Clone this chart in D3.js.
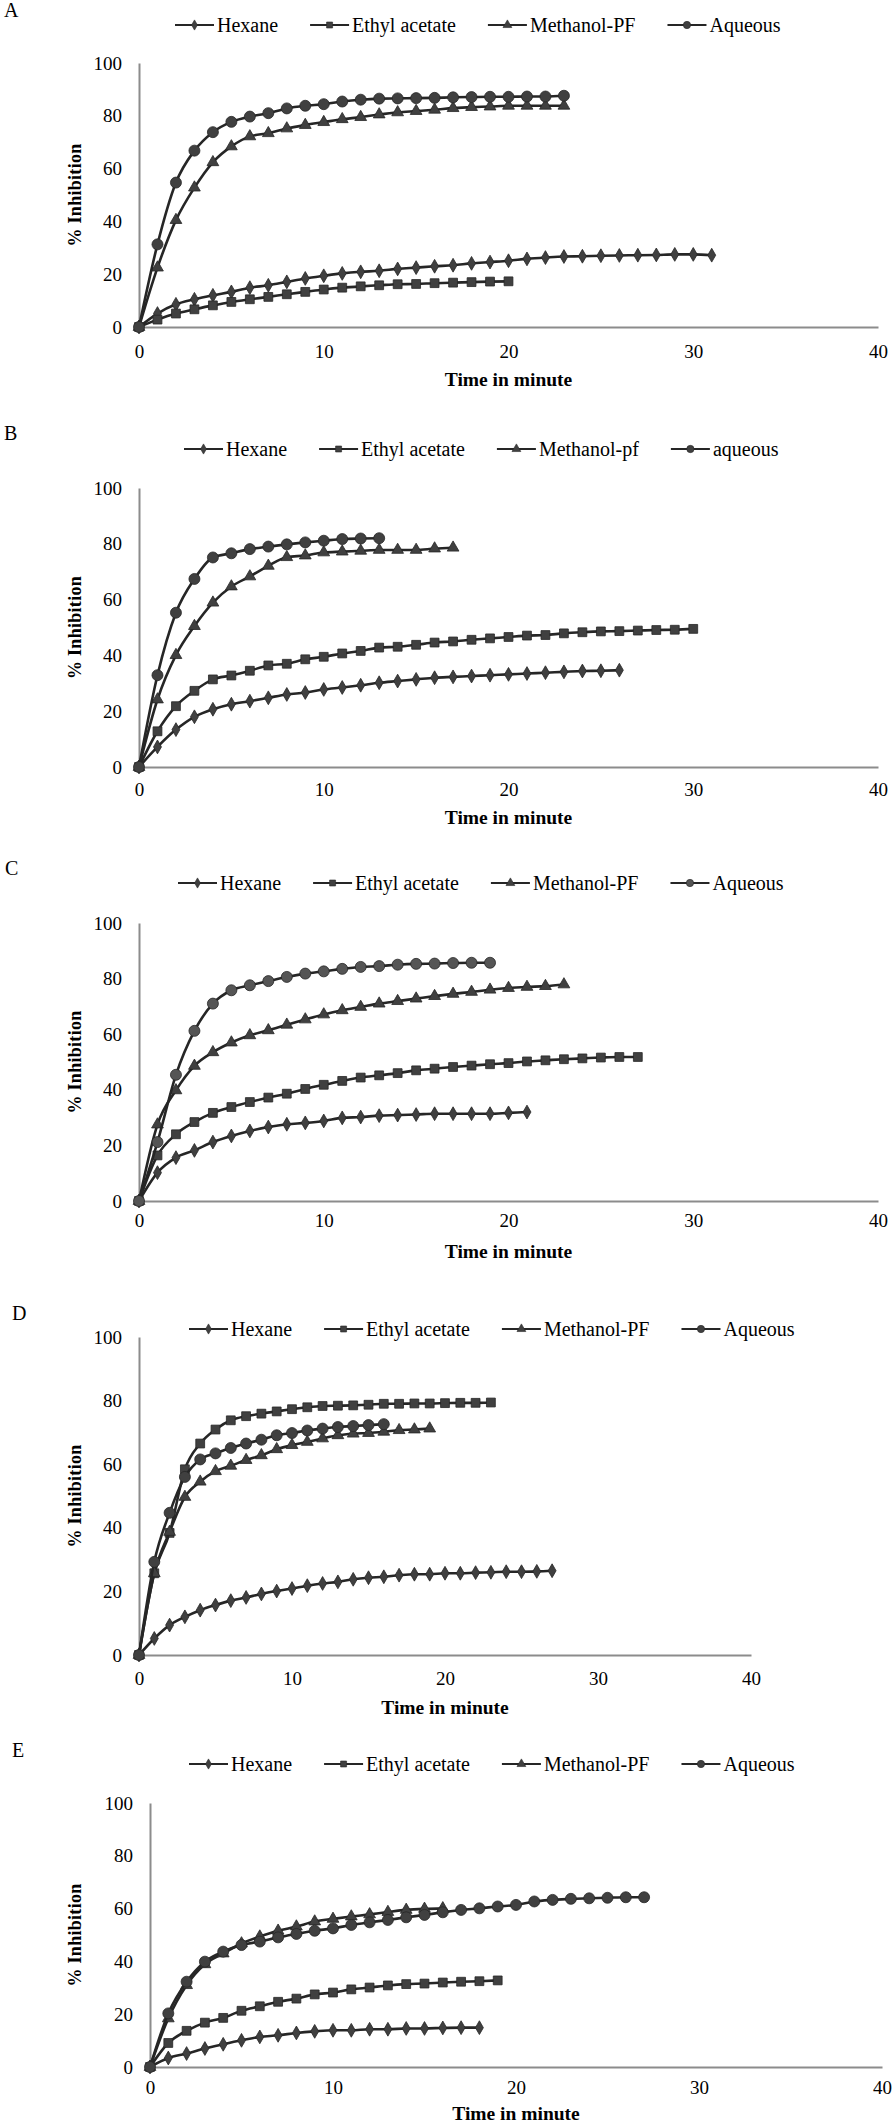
<!DOCTYPE html>
<html>
<head>
<meta charset="utf-8">
<script src="https://cdn.jsdelivr.net/npm/d3@7"></script>
<style>
  html, body { margin: 0; padding: 0; background: #fff; }
  svg { display: block; }
  text { font-family: "Liberation Serif", "Times New Roman", serif; fill: #000; }
</style>
</head>
<body>
<div id="chart"></div>
<script>
// ---------- DATA (values read per minute, index = time in minutes) ----------
const panelLetters = ["A", "B", "C", "D", "E"];
const xTicks = [0, 10, 20, 30, 40];
const yTicks = [0, 20, 40, 60, 80, 100];
const xTitle = "Time in minute";
const yTitle = "% Inhibition";

const legendA = ["Hexane", "Ethyl acetate", "Methanol-PF", "Aqueous"];
const legendB = ["Hexane", "Ethyl acetate", "Methanol-pf", "aqueous"];
const legendC = ["Hexane", "Ethyl acetate", "Methanol-PF", "Aqueous"];
const legendD = ["Hexane", "Ethyl acetate", "Methanol-PF", "Aqueous"];
const legendE = ["Hexane", "Ethyl acetate", "Methanol-PF", "Aqueous"];

// Panel A
const hexaneA = [0, 5.1, 8.6, 10.5, 12.0, 13.3, 14.9, 15.8, 17.1, 18.4, 19.4, 20.3, 20.9, 21.3, 22.0, 22.5, 23.0, 23.4, 24.1, 24.6, 25.1, 25.8, 26.3, 26.7, 26.8, 27.0, 27.1, 27.2, 27.3, 27.5, 27.5, 27.2];
const ethylA = [0, 2.8, 5.1, 6.7, 8.2, 9.5, 10.5, 11.4, 12.4, 13.3, 14.2, 14.9, 15.4, 15.8, 16.2, 16.3, 16.6, 16.8, 17.0, 17.2, 17.3];
const methanolA = [0, 22.5, 40.5, 52.8, 62.4, 68.4, 72.2, 73.4, 75.2, 76.5, 77.6, 78.7, 79.5, 80.5, 81.3, 81.8, 82.3, 82.9, 83.3, 83.5, 83.8, 83.8, 83.8, 83.8];
const aqueousA = [0, 31.3, 54.7, 66.8, 73.8, 77.7, 79.7, 81.0, 82.8, 83.8, 84.4, 85.4, 86.1, 86.5, 86.6, 86.7, 86.8, 87.0, 87.1, 87.2, 87.2, 87.3, 87.3, 87.6];

// Panel B
const hexaneB = [0, 7.2, 13.4, 18.0, 20.7, 22.5, 23.6, 24.8, 26.0, 26.7, 27.8, 28.5, 29.3, 30.2, 30.8, 31.4, 32.0, 32.3, 32.6, 32.9, 33.2, 33.5, 33.8, 34.1, 34.4, 34.5, 34.7];
const ethylB = [0, 12.8, 21.8, 27.3, 31.4, 32.8, 34.5, 36.4, 37.0, 38.6, 39.5, 40.7, 41.6, 42.8, 43.1, 43.8, 44.6, 45.0, 45.6, 46.1, 46.6, 47.1, 47.3, 47.9, 48.3, 48.6, 48.7, 48.9, 49.1, 49.2, 49.5];
const methanolB = [0, 24.2, 40.1, 50.5, 58.9, 64.7, 68.3, 72.1, 75.2, 75.8, 76.9, 77.2, 77.5, 77.8, 77.8, 77.8, 78.3, 78.6];
const aqueousB = [0, 32.9, 55.3, 67.4, 75.1, 76.6, 78.1, 79.0, 79.8, 80.5, 81.1, 81.7, 81.9, 82.0];

// Panel C
const hexaneC = [0, 10.2, 15.6, 18.2, 21.2, 23.4, 25.2, 26.6, 27.6, 28.1, 28.8, 29.9, 30.2, 30.7, 30.9, 31.1, 31.4, 31.4, 31.4, 31.4, 31.7, 32.0];
const ethylC = [0, 16.4, 24.0, 28.4, 31.7, 33.8, 35.6, 37.2, 38.6, 40.3, 41.8, 43.2, 44.4, 45.2, 46.0, 47.0, 47.6, 48.2, 48.7, 49.2, 49.6, 50.2, 50.6, 51.0, 51.3, 51.6, 51.8, 51.8];
const methanolC = [0, 27.5, 39.8, 48.6, 53.5, 57.0, 59.6, 61.4, 63.4, 65.3, 67.1, 68.6, 69.8, 71.0, 71.9, 72.8, 73.7, 74.5, 75.2, 76.0, 76.6, 77.0, 77.3, 77.9];
const aqueousC = [0, 21.2, 45.4, 61.2, 71.0, 75.8, 77.6, 79.1, 80.6, 81.8, 82.6, 83.5, 84.2, 84.5, 85.0, 85.3, 85.4, 85.6, 85.7, 85.7];

// Panel D
const hexaneD = [0, 5.2, 9.4, 12.0, 14.1, 15.7, 17.1, 18.1, 19.2, 20.1, 20.9, 21.8, 22.5, 23.0, 23.8, 24.3, 24.6, 25.1, 25.4, 25.4, 25.7, 25.7, 25.9, 26.0, 26.2, 26.2, 26.3, 26.5];
const ethylD = [0, 25.7, 38.4, 58.4, 66.5, 70.9, 73.8, 75.1, 75.9, 76.6, 77.3, 77.9, 78.3, 78.4, 78.5, 78.7, 79.0, 79.0, 79.1, 79.1, 79.2, 79.3, 79.3, 79.4];
const methanolD = [0, 25.7, 38.7, 49.7, 54.5, 57.8, 59.5, 61.3, 62.8, 64.7, 66.0, 67.0, 68.1, 69.1, 69.6, 69.8, 70.2, 70.7, 70.9, 71.2];
const aqueousD = [0, 29.3, 44.7, 56.0, 61.5, 63.4, 65.1, 66.5, 67.7, 69.1, 69.8, 70.6, 71.2, 71.7, 72.0, 72.3, 72.6];

// Panel E
const hexaneE = [0, 3.4, 5.1, 7.0, 8.6, 10.1, 11.4, 12.0, 12.9, 13.5, 13.9, 13.9, 14.3, 14.3, 14.6, 14.6, 14.8, 14.9, 14.9];
const ethylE = [0, 9.1, 13.7, 16.8, 18.6, 21.3, 23.0, 24.7, 25.9, 27.5, 28.2, 29.4, 30.1, 30.9, 31.4, 31.6, 32.0, 32.3, 32.5, 32.8];
const methanolE = [0, 18.4, 31.0, 38.9, 43.0, 46.8, 49.4, 51.6, 53.2, 55.1, 56.1, 57.0, 57.8, 58.7, 59.5, 59.9, 60.1];
const aqueousE = [0, 20.3, 32.3, 39.9, 43.7, 46.2, 47.5, 49.1, 50.4, 51.6, 52.5, 53.8, 54.8, 55.7, 56.7, 57.6, 58.6, 59.5, 60.1, 60.8, 61.4, 62.7, 63.3, 63.7, 63.9, 64.1, 64.3, 64.3];

// ---------- LAYOUT ----------
const W = 894, H = 2124;
const svg = d3.select("#chart").append("svg").attr("width", W).attr("height", H);
svg.append("rect").attr("width", W).attr("height", H).attr("fill", "#fff");

const panels = [
  { letter: panelLetters[0], legend: legendA, series: [hexaneA, ethylA, methanolA, aqueousA],
    x0: 139, x1: 878, yTop: 63, yBot: 327, letterX: 4, letterY: 17, legY: 25, legX: 175, tickY: 358, titleY: 386, aqFill: "#404040" },
  { letter: panelLetters[1], legend: legendB, series: [hexaneB, ethylB, methanolB, aqueousB],
    x0: 139, x1: 878, yTop: 488, yBot: 767, letterX: 4, letterY: 440, legY: 449, legX: 184, tickY: 796, titleY: 824, aqFill: "#404040" },
  { letter: panelLetters[2], legend: legendC, series: [hexaneC, ethylC, methanolC, aqueousC],
    x0: 139, x1: 878, yTop: 923, yBot: 1201, letterX: 5, letterY: 875, legY: 883, legX: 178, tickY: 1227, titleY: 1258, aqFill: "#555555" },
  { letter: panelLetters[3], legend: legendD, series: [hexaneD, ethylD, methanolD, aqueousD],
    x0: 139, x1: 751, yTop: 1337, yBot: 1655, letterX: 12, letterY: 1320, legY: 1329, legX: 189, tickY: 1685, titleY: 1714, aqFill: "#404040" },
  { letter: panelLetters[4], legend: legendE, series: [hexaneE, ethylE, methanolE, aqueousE],
    x0: 150, x1: 882, yTop: 1803, yBot: 2067, letterX: 12, letterY: 1757, legY: 1764, legX: 189, tickY: 2094, titleY: 2120, aqFill: "#404040" }
];

const symbols = [d3.symbolDiamond, d3.symbolSquare, d3.symbolTriangle, d3.symbolCircle];
const symSizes = [55, 78, 60, 95];
const legSymSizes = [30, 36, 34, 42];
const lineColor = "#262626";
const markColor = "#404040";
const axisColor = "#8c8c8c";

panels.forEach(p => {
  const g = svg.append("g");
  const x = d3.scaleLinear().domain([0, 40]).range([p.x0, p.x1]);
  const y = d3.scaleLinear().domain([0, 100]).range([p.yBot, p.yTop]);

  g.append("text").attr("x", p.letterX).attr("y", p.letterY)
    .attr("font-size", 20).text(p.letter);

  const yAxis = d3.axisLeft(y).tickValues(yTicks).tickSize(0).tickPadding(17);
  const xAxis = d3.axisBottom(x).tickValues(xTicks).tickSize(0).tickPadding(17);
  const gy = g.append("g").attr("transform", `translate(${p.x0},0)`).call(yAxis);
  gy.select(".domain").attr("stroke", axisColor).attr("stroke-width", 2);
  gy.selectAll("text").attr("font-size", 19).attr("font-family", "Liberation Serif, serif").attr("fill", "#000");
  const gx = g.append("g").attr("transform", `translate(0,${p.yBot})`).call(xAxis);
  gx.select(".domain").attr("stroke", axisColor).attr("stroke-width", 2);
  gx.selectAll("text").attr("font-size", 19).attr("font-family", "Liberation Serif, serif").attr("fill", "#000")
    .attr("dy", null).attr("y", p.tickY - p.yBot);

  g.append("text").attr("x", (p.x0 + p.x1) / 2).attr("y", p.titleY)
    .attr("text-anchor", "middle").attr("font-size", 19.5).attr("font-weight", "bold").text(xTitle);
  g.append("text")
    .attr("transform", `translate(81,${(p.yTop + p.yBot) / 2}) rotate(-90)`)
    .attr("text-anchor", "middle").attr("font-size", 18).attr("font-weight", "bold")
    .attr("letter-spacing", 0.3).text(yTitle);

  const line = d3.line().x((d, i) => x(i)).y(d => y(d)).curve(d3.curveMonotoneX);
  p.series.forEach((vals, si) => {
    const fill = si === 3 ? p.aqFill : markColor;
    g.append("path").datum(vals).attr("d", line)
      .attr("fill", "none").attr("stroke", lineColor).attr("stroke-width", 2.6);
    g.selectAll(null).data(vals).enter().append("path")
      .attr("transform", (d, i) => `translate(${x(i)},${y(d)})`)
      .attr("d", d3.symbol().type(symbols[si]).size(symSizes[si]))
      .attr("fill", fill).attr("stroke", lineColor).attr("stroke-width", 0.8);
  });

  let lx = p.legX;
  p.legend.forEach((name, si) => {
    const lg = g.append("g");
    lg.append("line").attr("x1", lx).attr("x2", lx + 39).attr("y1", p.legY).attr("y2", p.legY)
      .attr("stroke", lineColor).attr("stroke-width", 2.2);
    lg.append("path").attr("transform", `translate(${lx + 19.5},${p.legY})`)
      .attr("d", d3.symbol().type(symbols[si]).size(legSymSizes[si]))
      .attr("fill", si === 3 ? p.aqFill : markColor).attr("stroke", lineColor).attr("stroke-width", 0.6);
    const t = lg.append("text").attr("x", lx + 42).attr("y", p.legY + 7)
      .attr("font-size", 20).text(name);
    lx = lx + 42 + t.node().getComputedTextLength() + 32;
  });
});
</script>
</body>
</html>
